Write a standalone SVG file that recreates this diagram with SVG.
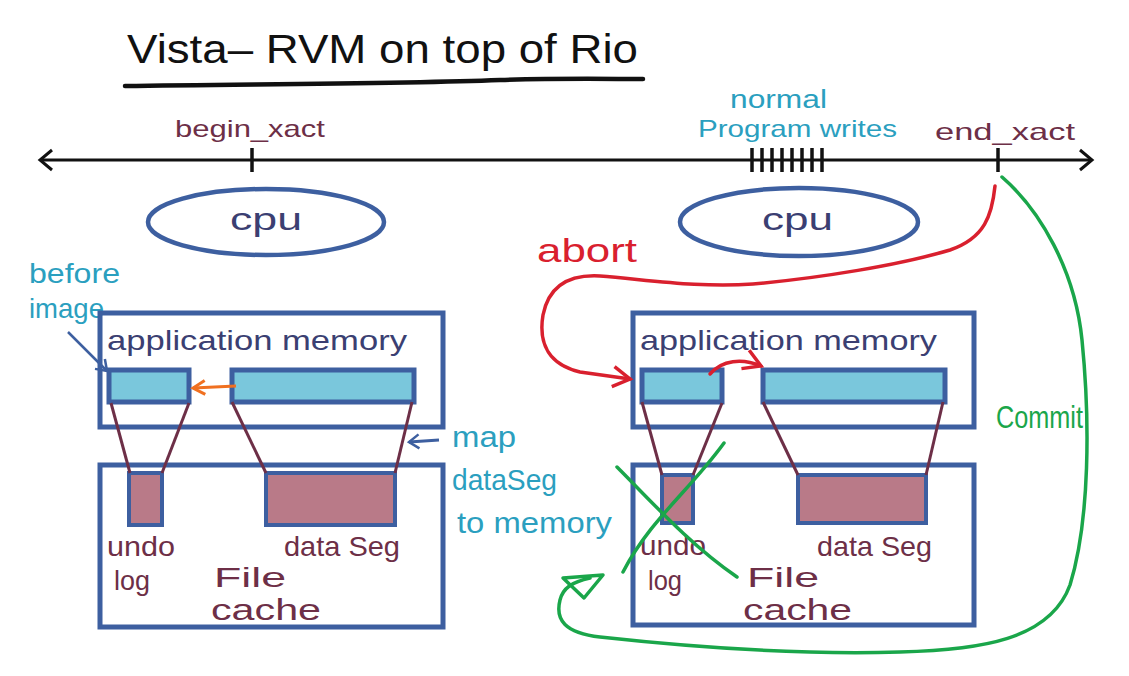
<svg xmlns="http://www.w3.org/2000/svg" width="1129" height="676" viewBox="0 0 1129 676">
<style>
text{font-family:"Liberation Sans","DejaVu Sans",sans-serif;}
.navy{fill:#3b3f72}
.maroonT{fill:#6d2f47}
.teal{fill:#2b9fbf}
.box{fill:none;stroke:#3d5fa0;stroke-width:5}
.blue{fill:#7ac7dc;stroke:#3d5fa0;stroke-width:5}
.mar{fill:#b97a88;stroke:#3d5fa0;stroke-width:4}
.mline{stroke:#6d2f47;stroke-width:3;fill:none}
.ell{fill:none;stroke:#3d5fa0;stroke-width:4.5}
.tick{stroke:#111;stroke-width:3.5}
</style>
<defs>
<marker id="chev" markerUnits="userSpaceOnUse" markerWidth="20" markerHeight="24" refX="14" refY="12" orient="auto-start-reverse"><path d="M2,2 L14,12 L2,22" fill="none" stroke="#111" stroke-width="3"/></marker>
<marker id="blueHead" markerUnits="userSpaceOnUse" markerWidth="20" markerHeight="20" refX="14" refY="10" orient="auto"><path d="M4,3 L14,10 L4,17" fill="none" stroke="#3d5fa0" stroke-width="2.5"/></marker>
<marker id="orangeHead" markerUnits="userSpaceOnUse" markerWidth="20" markerHeight="20" refX="14" refY="10" orient="auto"><path d="M2,3 L14,10 L2,17" fill="none" stroke="#f07020" stroke-width="3"/></marker>
<marker id="redHead" markerUnits="userSpaceOnUse" markerWidth="26" markerHeight="26" refX="20" refY="13" orient="auto"><path d="M3,3 L20,13 L3,23" fill="none" stroke="#d9202e" stroke-width="3.5"/></marker>
</defs>

<g id="title">
<text x="127" y="63" font-size="40" textLength="511" lengthAdjust="spacingAndGlyphs" fill="#111">Vista– RVM on top of Rio</text>
<path d="M125,86 C250,84 400,84 500,80 C560,78 610,79 643,79" fill="none" stroke="#111" stroke-width="4.5" stroke-linecap="round"/>
</g>

<g id="timeline">
<line x1="40" y1="160" x2="1092" y2="160" stroke="#111" stroke-width="3" marker-start="url(#chev)" marker-end="url(#chev)"/>
<line class="tick" x1="252" y1="148" x2="252" y2="172"/>
<g id="writes-ticks">
<line class="tick" x1="752" y1="148" x2="752" y2="172"/>
<line class="tick" x1="762" y1="148" x2="762" y2="172"/>
<line class="tick" x1="772" y1="148" x2="772" y2="172"/>
<line class="tick" x1="782" y1="148" x2="782" y2="172"/>
<line class="tick" x1="792" y1="148" x2="792" y2="172"/>
<line class="tick" x1="802" y1="148" x2="802" y2="172"/>
<line class="tick" x1="812" y1="148" x2="812" y2="172"/>
<line class="tick" x1="822" y1="148" x2="822" y2="172"/>
</g>
<line class="tick" x1="998" y1="148" x2="998" y2="172"/>
<text class="maroonT" x="175" y="137" font-size="24" textLength="150" lengthAdjust="spacingAndGlyphs">begin_xact</text>
<text class="teal" x="730" y="108" font-size="26" textLength="97" lengthAdjust="spacingAndGlyphs">normal</text>
<text class="teal" x="698" y="137" font-size="24" textLength="199" lengthAdjust="spacingAndGlyphs">Program writes</text>
<text class="maroonT" x="935" y="140" font-size="24" textLength="140" lengthAdjust="spacingAndGlyphs">end_xact</text>
</g>

<g id="cpu-left">
<ellipse class="ell" cx="266" cy="222" rx="118" ry="33"/>
<text class="navy" x="230" y="230" font-size="32" textLength="72" lengthAdjust="spacingAndGlyphs">cpu</text>
</g>
<g id="cpu-right">
<ellipse class="ell" cx="799" cy="222" rx="119" ry="34"/>
<text class="navy" x="762" y="230" font-size="32" textLength="71" lengthAdjust="spacingAndGlyphs">cpu</text>
</g>

<g id="before-image-label">
<text class="teal" x="29" y="283" font-size="28" textLength="91" lengthAdjust="spacingAndGlyphs">before</text>
<text class="teal" x="29" y="318" font-size="28" textLength="75" lengthAdjust="spacingAndGlyphs">image</text>
</g>

<g id="app-memory-left">
<rect class="box" x="100" y="313" width="343" height="114"/>
<text class="navy" x="107" y="350" font-size="28" textLength="300" lengthAdjust="spacingAndGlyphs">application memory</text>
<rect class="blue" x="109" y="370" width="80" height="32"/>
<rect class="blue" x="232" y="370" width="182" height="32"/>
</g>

<g id="file-cache-left">
<rect class="box" x="100" y="465" width="343" height="162"/>
<rect class="mar" x="129" y="473" width="33" height="52"/>
<rect class="mar" x="266" y="473" width="129" height="52"/>
<text class="maroonT" x="107" y="556" font-size="28" textLength="68" lengthAdjust="spacingAndGlyphs">undo</text>
<text class="maroonT" x="114" y="590" font-size="28" textLength="36" lengthAdjust="spacingAndGlyphs">log</text>
<text class="maroonT" x="284" y="556" font-size="28" textLength="116" lengthAdjust="spacingAndGlyphs">data Seg</text>
<text class="maroonT" x="214" y="587" font-size="28" textLength="72" lengthAdjust="spacingAndGlyphs">File</text>
<text class="maroonT" x="211" y="620" font-size="30" textLength="110" lengthAdjust="spacingAndGlyphs">cache</text>
</g>

<g id="map-label">
<text class="teal" x="452" y="447" font-size="30" textLength="64" lengthAdjust="spacingAndGlyphs">map</text>
<text class="teal" x="452" y="490" font-size="30" textLength="105" lengthAdjust="spacingAndGlyphs">dataSeg</text>
<text class="teal" x="457" y="533" font-size="30" textLength="155" lengthAdjust="spacingAndGlyphs">to memory</text>
</g>

<g id="app-memory-right">
<rect class="box" x="633" y="313" width="341" height="114"/>
<text class="navy" x="640" y="350" font-size="28" textLength="297" lengthAdjust="spacingAndGlyphs">application memory</text>
<rect class="blue" x="642" y="370" width="80" height="32"/>
<rect class="blue" x="763" y="370" width="182" height="32"/>
</g>

<g id="file-cache-right">
<rect class="box" x="633" y="465" width="341" height="160"/>
<rect class="mar" x="662" y="475" width="31" height="48"/>
<rect class="mar" x="798" y="475" width="128" height="48"/>
<text class="maroonT" x="640" y="555" font-size="28" textLength="66" lengthAdjust="spacingAndGlyphs">undo</text>
<text class="maroonT" x="648" y="590" font-size="28" textLength="34" lengthAdjust="spacingAndGlyphs">log</text>
<text class="maroonT" x="817" y="556" font-size="28" textLength="115" lengthAdjust="spacingAndGlyphs">data Seg</text>
<text class="maroonT" x="747" y="587" font-size="28" textLength="72" lengthAdjust="spacingAndGlyphs">File</text>
<text class="maroonT" x="743" y="620" font-size="30" textLength="109" lengthAdjust="spacingAndGlyphs">cache</text>
</g>

<g id="abort-label">
<text x="537" y="262" font-size="34" textLength="100" lengthAdjust="spacingAndGlyphs" fill="#d9202e">abort</text>
</g>
<g id="commit-label">
<text x="996" y="428" font-size="32" textLength="87" lengthAdjust="spacingAndGlyphs" fill="#1aa64a">Commit</text>
</g>

<g id="connectors">
<line class="mline" x1="111" y1="403" x2="130" y2="473"/>
<line class="mline" x1="189" y1="403" x2="162" y2="473"/>
<line class="mline" x1="232" y1="402" x2="266" y2="473"/>
<line class="mline" x1="412" y1="402" x2="395" y2="473"/>
<line class="mline" x1="642" y1="402" x2="662" y2="475"/>
<line class="mline" x1="722" y1="403" x2="693" y2="475"/>
<line class="mline" x1="763" y1="402" x2="798" y2="475"/>
<line class="mline" x1="943" y1="402" x2="926" y2="475"/>
<path d="M68,332 L107,371" fill="none" stroke="#3d5fa0" stroke-width="2.5" marker-end="url(#blueHead)"/>
<path d="M236,386 L193,388" fill="none" stroke="#f07020" stroke-width="3" marker-end="url(#orangeHead)"/>
<path d="M439,440 L409,442" fill="none" stroke="#3d5fa0" stroke-width="3" marker-end="url(#blueHead)"/>
<path d="M995,186 C992,215 985,238 950,250 C900,265 820,278 753,284 C700,288 650,280 600,276 C565,274 548,290 543,315 C538,345 550,365 580,372 L630,379" fill="none" stroke="#d9202e" stroke-width="3.5" stroke-linecap="round" marker-end="url(#redHead)"/>
<path d="M710,374 C722,360 742,358 761,366" fill="none" stroke="#d9202e" stroke-width="3.5" stroke-linecap="round" marker-end="url(#redHead)"/>
<path d="M1002,177 C1040,210 1075,270 1082,340 C1090,420 1090,520 1070,585 C1050,640 980,650 900,652 C800,655 700,648 600,637 C565,633 555,620 560,600 C563,588 572,582 590,578" fill="none" stroke="#1aa64a" stroke-width="3.5" stroke-linecap="round"/>
<path d="M563,578 L603,575 L584,598 Z" fill="none" stroke="#1aa64a" stroke-width="3.5" stroke-linejoin="round"/>
<path d="M617,467 C650,500 690,545 737,577" fill="none" stroke="#1aa64a" stroke-width="3.5" stroke-linecap="round"/>
<path d="M724,443 C690,490 650,520 623,572" fill="none" stroke="#1aa64a" stroke-width="3.5" stroke-linecap="round"/>
</g>
</svg>
